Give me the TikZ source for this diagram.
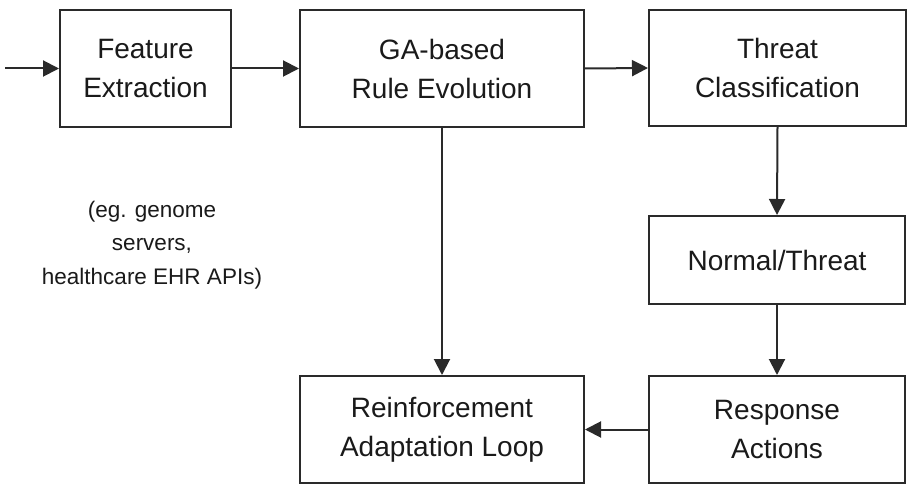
\documentclass[tikz,border=0pt]{standalone}
\usepackage{fontspec}
\setmainfont{Liberation Sans}
\usetikzlibrary{arrows.meta}
\definecolor{linec}{HTML}{2a2a2a}
\definecolor{textc}{HTML}{1a1a1a}
\begin{document}
\begin{tikzpicture}[x=1pt,y=-1pt,
  blk/.style={draw=linec, line width=2pt, fill=white, align=center, text=textc,
    font=\fontsize{28}{39}\selectfont, inner sep=0pt},
  conn/.style={draw=linec, line width=2pt, -{Triangle[length=16pt,width=16pt]}},
  note/.style={align=center, text=textc, font=\fontsize{22.5}{33.5}\selectfont}
]
\useasboundingbox (0,0) rectangle (913,497);
\fill[white] (0,0) rectangle (913,497);
\node[blk, minimum width=171pt, minimum height=117pt] (F) at (145.5,68.5) {Feature\\Extraction};
\node[blk, minimum width=284pt, minimum height=117pt] (G) at (442,68.5) {GA-based\\Rule Evolution};
\node[blk, minimum width=257pt, minimum height=116pt] (T) at (777.5,68) {Threat\\Classification};
\node[blk, minimum width=256pt, minimum height=88pt] (N) at (777,260) {Normal/Threat};
\node[blk, minimum width=256pt, minimum height=107pt] (A) at (777,429.5) {Response\\Actions};
\node[blk, minimum width=284pt, minimum height=107pt] (R) at (442,429.5) {Reinforcement\\Adaptation Loop};
\node[note] (E) at (152,245) {(eg. genome\\servers,\\healthcare EHR APIs)};
\coordinate (in) at (5,68.5);
\draw[conn] (in) -- (F.west);
\draw[conn] (F.east) -- (G.west);
\draw[conn] (G.east) -- (T.west);
\draw[conn] (T.south) -- (N.north);
\draw[conn] (N.south) -- (A.north);
\draw[conn] (A.west) -- (R.east);
\draw[conn] (G.south) -- (R.north);
\end{tikzpicture}
\end{document}
